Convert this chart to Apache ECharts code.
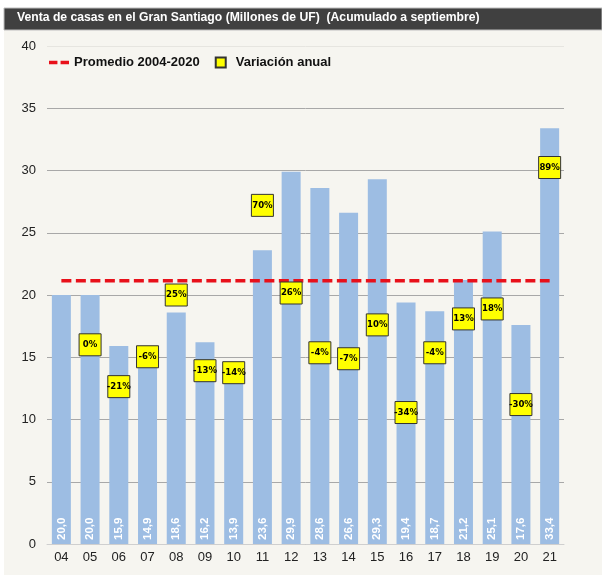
<!DOCTYPE html>
<html>
<head>
<meta charset="utf-8">
<script src="https://cdn.jsdelivr.net/npm/echarts@6/dist/echarts.min.js"></script>
<style>
html,body{margin:0;padding:0;background:#ffffff;}
#chart{width:602px;height:579px;}
</style>
</head>
<body>
<div id="chart"></div>
<script>
const titleText = 'Venta de casas en el Gran Santiago (Millones de UF)  (Acumulado a septiembre)';
const categories = ['04','05','06','07','08','09','10','11','12','13','14','15','16','17','18','19','20','21'];
const ventas = [20.0,20.0,15.9,14.9,18.6,16.2,13.9,23.6,29.9,28.6,26.6,29.3,19.4,18.7,21.2,25.1,17.6,33.4];
const variacion = [null,0,-21,-6,25,-13,-14,70,26,-4,-7,10,-34,-4,13,18,-30,89];
const promedio = [21.15,21.15,21.15,21.15,21.15,21.15,21.15,21.15,21.15,21.15,21.15,21.15,21.15,21.15,21.15,21.15,21.15,21.15];
const yTicks = {min:0, max:40, interval:5};
const y2Range = {min:-100, max:150};

const chart = echarts.init(document.getElementById('chart'), null, {renderer:'canvas'});
const FONT = '"Liberation Sans", Arial, sans-serif';
const NARROW = '"DejaVu Sans Condensed", "Liberation Sans Narrow", "Arial Narrow", "Liberation Sans", sans-serif';
const G = '#a8a8a8';

chart.setOption({
  animation:false,
  backgroundColor:'#ffffff',
  graphic:[
    {type:'rect', z:-10, shape:{x:4,y:30,width:598,height:545}, style:{fill:'#f6f5f0'}},
    {type:'rect', z:-5, shape:{x:4,y:8,width:598,height:22}, style:{fill:'#404040', stroke:'#bdbdbd', lineWidth:1}},
    {type:'text', z:10, left:17, top:12, style:{text:titleText, fill:'#ffffff', font:'bold 12.2px ' + FONT}}
  ],
  legend:{
    left:44, top:51,
    itemWidth:20, itemHeight:10, itemGap:15,
    textStyle:{fontFamily:FONT, fontSize:13, fontWeight:'bold', color:'#111'},
    data:[
      {name:'Promedio 2004-2020', icon:'path://M0,0h8v3.2h-8z M11,0h8v3.2h-8z'},
      {name:'Variación anual', icon:'path://M0,0h10v10h-10z'}
    ]
  },
  grid:{left:47, right:38, top:46, bottom:35, containLabel:false},
  xAxis:{
    type:'category', data:categories,
    axisLine:{show:true, lineStyle:{color:'#cfcfcf'}},
    axisTick:{show:false},
    axisLabel:{color:'#222', fontFamily:FONT, fontSize:13, margin:7}
  },
  yAxis:[
    {type:'value', min:yTicks.min, max:yTicks.max, interval:yTicks.interval,
     axisLine:{show:false}, axisTick:{show:false},
     axisLabel:{color:'#222', fontFamily:FONT, fontSize:13, margin:11},
     splitLine:{lineStyle:{color:[G,G,G,G,G,G,G,G,'#e6e5e0'], width:1}}},
    {type:'value', min:y2Range.min, max:y2Range.max, show:false, splitLine:{show:false}}
  ],
  series:[
    {
      name:'Ventas', type:'bar', data:ventas, barWidth:19, z:2,
      itemStyle:{color:'#9dbde3'},
      label:{show:true, position:'insideBottom', rotate:90, align:'left', verticalAlign:'middle', distance:4,
        color:'#ffffff', fontFamily:FONT, fontSize:11.5, fontWeight:'bold',
        formatter:p=>p.value.toFixed(1).replace('.',',')}
    },
    {
      name:'Promedio 2004-2020', type:'line', data:promedio, z:3,
      symbol:'none', showSymbol:false,
      lineStyle:{color:'#e8101a', width:3.5, type:[10,4.5]},
      itemStyle:{color:'#e8101a'}
    },
    {
      name:'Variación anual', type:'scatter', data:variacion, yAxisIndex:1, z:5,
      symbol:'rect', symbolSize:22,
      itemStyle:{color:'#ffff00', borderColor:'#333333', borderWidth:1, opacity:1},
      label:{show:true, position:'inside', color:'#000', fontFamily:NARROW, fontSize:9.5, fontWeight:'bold',
        formatter:p=>p.value + '%'}
    }
  ]
});
</script>
</body>
</html>
